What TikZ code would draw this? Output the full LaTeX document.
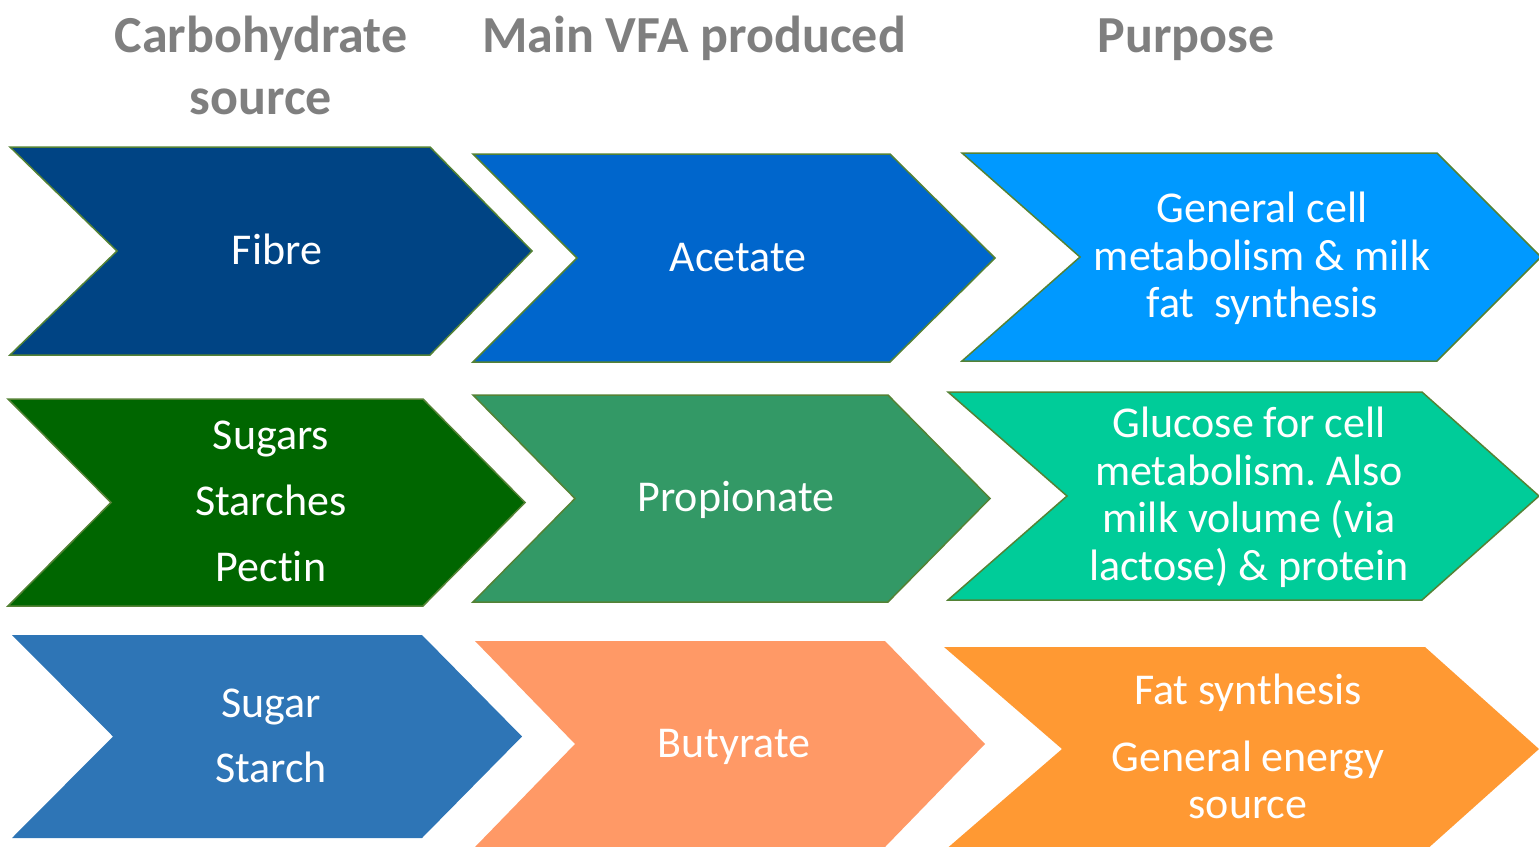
\documentclass[tikz,border=0pt]{standalone}
\usepackage{fontspec}
\setmainfont{Carlito}[Ligatures={NoCommon,NoContextual}]
\frenchspacing
\definecolor{hdr}{HTML}{7F7F7F}
\definecolor{edge}{HTML}{548235}
\definecolor{cA}{HTML}{004484}
\definecolor{cB}{HTML}{0066CC}
\definecolor{cC}{HTML}{0099FF}
\definecolor{cD}{HTML}{006600}
\definecolor{cE}{HTML}{339966}
\definecolor{cF}{HTML}{00CC99}
\definecolor{cG}{HTML}{2E75B6}
\definecolor{cH}{HTML}{FF9966}
\definecolor{cI}{HTML}{FF9933}
\tikzset{
  header/.style={text=hdr, font=\fontsize{52}{62}\selectfont\bfseries, anchor=base, inner sep=0pt},
  body/.style={text=white, font=\fontsize{44}{48}\selectfont, anchor=base, inner sep=0pt},
  chevline/.style={draw=edge, line width=1.5pt, line join=miter},
  chevplain/.style={draw=none},
}
% #1 style, #2 colour, #3 left x, #4 notch x, #5 top-right x, #6 tip x, #7 top y, #8 bottom y
\newcommand{\mychev}[8]{%
  \pgfmathsetmacro{\ymid}{(#7+#8)/2}
  \path[#1, fill=#2] (#3,#7) -- (#5,#7) -- (#6,\ymid) -- (#5,#8) -- (#3,#8) -- (#4,\ymid) -- cycle;
}
\begin{document}
\begin{tikzpicture}[x=1pt,y=-1pt]
\useasboundingbox (0,0) rectangle (1539,846);
% headers
\node[header] (h1a) at (261,52) {Carbohydrate};
\node[header] (h1b) at (261,114) {source};
\node[header] (h2) at (694,52) {Main VFA produced};
\node[header] (h3) at (1186,52) {Purpose};
% row 1
\mychev{chevline}{cA}{10}{117}{430}{532}{147}{355}
\mychev{chevline}{cB}{473}{577}{890}{995}{154}{362}
\mychev{chevline}{cC}{962}{1080}{1437}{1541}{153}{361}
% row 2
\mychev{chevline}{cD}{8}{111}{423}{525}{399}{606}
\mychev{chevline}{cE}{473}{575}{888}{990}{395}{602}
\mychev{chevline}{cF}{948}{1067}{1422}{1539}{392}{600}
% row 3
\mychev{chevplain}{cG}{12}{113}{422}{522}{635}{838}
\mychev{chevplain}{cH}{475}{575}{885}{985}{641}{847}
\mychev{chevplain}{cI}{944}{1062}{1425}{1539}{647}{851}
% texts
\node[body] (t1) at (277,264) {Fibre};
\node[body] (t2) at (738,271) {Acetate};
\node[body] (t3a) at (1262,222) {General cell};
\node[body] (t3b) at (1262,270) {metabolism \& milk};
\node[body] (t3c) at (1262,317) {fat\ \ synthesis};
\node[body] (t4a) at (271,449) {Sugars};
\node[body] (t4b) at (271,515) {Starches};
\node[body] (t4c) at (271,581) {Pectin};
\node[body] (t5) at (736,511) {Propionate};
\node[body] (t6a) at (1249,437) {Glucose for cell};
\node[body] (t6b) at (1249,485) {metabolism. Also};
\node[body] (t6c) at (1249,532) {milk volume (via};
\node[body] (t6d) at (1249,580) {lactose) \& protein};
\node[body] (t7a) at (271,717) {Sugar};
\node[body] (t7b) at (271,782) {Starch};
\node[body] (t8) at (734,757) {Butyrate};
\node[body] (t9a) at (1248,704) {Fat synthesis};
\node[body] (t9b) at (1248,771) {General energy};
\node[body] (t9c) at (1248,818) {source};
\end{tikzpicture}
\end{document}
